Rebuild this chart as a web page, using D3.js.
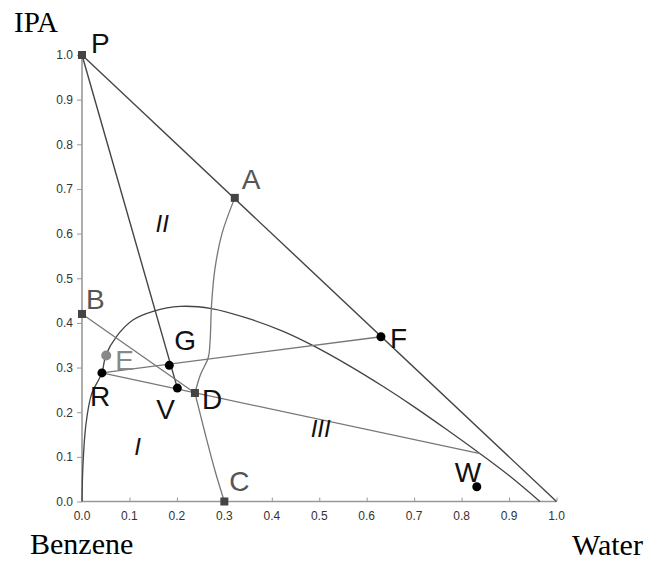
<!DOCTYPE html>
<html>
<head>
<meta charset="utf-8">
<script src="https://cdn.jsdelivr.net/npm/d3@7"></script>
<style>
  body { margin: 0; background: #fff; }
  svg text { font-family: Arial, "Liberation Sans", sans-serif; }
</style>
</head>
<body>
<div id="chart"></div>
<script>
// Ternary data (x = water fraction, y = IPA fraction)
const ticks = [0, 0.1, 0.2, 0.3, 0.4, 0.5, 0.6, 0.7, 0.8, 0.9, 1.0];

// binodal curve
const binodal = [[0, 0], [0.002, 0.08], [0.008, 0.17], [0.02, 0.24], [0.042, 0.288], [0.05, 0.327],
  [0.073, 0.37], [0.108, 0.407], [0.15, 0.426], [0.207, 0.437], [0.273, 0.432], [0.35, 0.41],
  [0.424, 0.381], [0.487, 0.349], [0.56, 0.306], [0.634, 0.258], [0.70, 0.212], [0.77, 0.16],
  [0.839, 0.107], [0.90, 0.058], [0.965, 0]];

// distillation boundary A -> D -> C
const boundaryAD = [[0.322, 0.68], [0.295, 0.6], [0.28, 0.52], [0.273, 0.44], [0.27, 0.36],
  [0.266, 0.322], [0.25, 0.285], [0.238, 0.243]];
const boundaryDC = [[0.238, 0.243], [0.26, 0.15], [0.28, 0.07], [0.30, 0]];

// straight lines
const darkLines = [
  [[0, 1], [1, 0]],          // P - water
  [[0, 1], [0.201, 0.254]]   // P - G - V
];
const greyLines = [
  [[0, 0.42], [0.238, 0.243]],     // B - D
  [[0.042, 0.288], [0.63, 0.369]], // R - G - F
  [[0.042, 0.288], [0.839, 0.107]] // R - D - tie line end
];

// points
const squares = [["P", 0, 1.0], ["A", 0.322, 0.68], ["B", 0, 0.42], ["D", 0.238, 0.243], ["C", 0.30, 0]];
const dots = [["F", 0.63, 0.369], ["G", 0.184, 0.305], ["V", 0.201, 0.254], ["R", 0.042, 0.288], ["W", 0.832, 0.033]];
const grayDots = [["E", 0.051, 0.327]];

// point labels: name, text x offset, y offset (px), colour
const pointLabels = [
  ["P", 0, 1.0, 9, -2, "#111"], ["A", 0.322, 0.68, 7, -9, "#555"], ["B", 0, 0.42, 4, -5, "#555"],
  ["E", 0.051, 0.327, 9, 15, "#888"], ["G", 0.184, 0.305, 5, -15, "#111"], ["R", 0.042, 0.288, -12, 33, "#111"],
  ["V", 0.201, 0.254, -21, 31, "#111"], ["D", 0.238, 0.243, 7, 16, "#111"], ["C", 0.30, 0, 5, -11, "#555"],
  ["F", 0.63, 0.369, 9, 11, "#111"], ["W", 0.832, 0.033, -22, -5, "#111"]
];
const regionLabels = [["I", 0.11, 0.105], ["II", 0.155, 0.603], ["III", 0.482, 0.145]];

const width = 664, height = 561;

const svg = d3.select("#chart").append("svg")
  .attr("width", width)
  .attr("height", height);

const x = d3.scaleLinear().domain([0, 1]).range([82, 556.5]);
const y = d3.scaleLinear().domain([0, 1]).range([501.5, 55]);

// axes
const xAxis = d3.axisTop(x).tickValues(ticks).tickSize(4).tickFormat("");
const yAxis = d3.axisLeft(y).tickValues(ticks).tickSize(5).tickFormat(d3.format(".1f")).tickPadding(4);

const gx = svg.append("g").attr("transform", "translate(0," + y(0) + ")").call(xAxis);
const gy = svg.append("g").attr("transform", "translate(" + x(0) + ",0)").call(yAxis);

[gx, gy].forEach(function(g) {
  g.select(".domain").attr("stroke", "#999").attr("stroke-width", 1.6);
  g.selectAll(".tick line").attr("stroke", "#999").attr("stroke-width", 1);
  g.selectAll(".tick text").attr("fill", "#333").style("font-size", "12px");
});
gy.select(".domain").attr("d", "M0," + y(0) + "V" + y(1));
gx.select(".domain").attr("d", "M" + x(0) + ",0H" + x(1));

// x tick labels below the axis
svg.append("g").selectAll("text")
  .data(ticks)
  .enter().append("text")
  .attr("x", d => x(d))
  .attr("y", y(0) + 18)
  .attr("text-anchor", "middle")
  .attr("fill", "#333")
  .style("font-size", "12px")
  .text(d3.format(".1f"));

// curves
const line = d3.line().x(d => x(d[0])).y(d => y(d[1]));
const curve = d3.line().x(d => x(d[0])).y(d => y(d[1])).curve(d3.curveCatmullRom.alpha(0.5));

svg.append("path").attr("d", curve(binodal))
  .attr("fill", "none").attr("stroke", "#444").attr("stroke-width", 1.3);

[boundaryAD, boundaryDC].forEach(function(b) {
  svg.append("path").attr("d", curve(b))
    .attr("fill", "none").attr("stroke", "#777").attr("stroke-width", 1.3);
});

darkLines.forEach(function(l) {
  svg.append("path").attr("d", line(l))
    .attr("fill", "none").attr("stroke", "#444").attr("stroke-width", 1.4);
});
greyLines.forEach(function(l) {
  svg.append("path").attr("d", line(l))
    .attr("fill", "none").attr("stroke", "#777").attr("stroke-width", 1.3);
});

// markers
svg.selectAll(".sq").data(squares).enter().append("rect")
  .attr("class", "sq")
  .attr("x", d => x(d[1]) - 4)
  .attr("y", d => y(d[2]) - 4)
  .attr("width", 8).attr("height", 8)
  .attr("fill", "#444");

svg.selectAll(".dot").data(dots).enter().append("circle")
  .attr("class", "dot")
  .attr("cx", d => x(d[1])).attr("cy", d => y(d[2]))
  .attr("r", 4.5).attr("fill", "#000");

svg.selectAll(".gdot").data(grayDots).enter().append("circle")
  .attr("class", "gdot")
  .attr("cx", d => x(d[1])).attr("cy", d => y(d[2]))
  .attr("r", 5).attr("fill", "#888");

// point labels
svg.selectAll(".plabel").data(pointLabels).enter().append("text")
  .attr("class", "plabel")
  .attr("x", d => x(d[1]) + d[3])
  .attr("y", d => y(d[2]) + d[4])
  .attr("fill", d => d[5])
  .style("font-size", "28px")
  .text(d => d[0]);

// region labels
svg.selectAll(".rlabel").data(regionLabels).enter().append("text")
  .attr("class", "rlabel")
  .attr("x", d => x(d[1]))
  .attr("y", d => y(d[2]))
  .attr("fill", "#111")
  .style("font-size", "24px")
  .style("font-style", "italic")
  .text(d => d[0]);

// component names
const serif = "'Liberation Serif', 'Times New Roman', serif";
svg.append("text").attr("x", 14).attr("y", 32).style("font-family", serif).style("font-size", "29px").text("IPA");
svg.append("text").attr("x", 30).attr("y", 554).style("font-family", serif).style("font-size", "30px").text("Benzene");
svg.append("text").attr("x", 572).attr("y", 555).style("font-family", serif).style("font-size", "30px").text("Water");
</script>
</body>
</html>
